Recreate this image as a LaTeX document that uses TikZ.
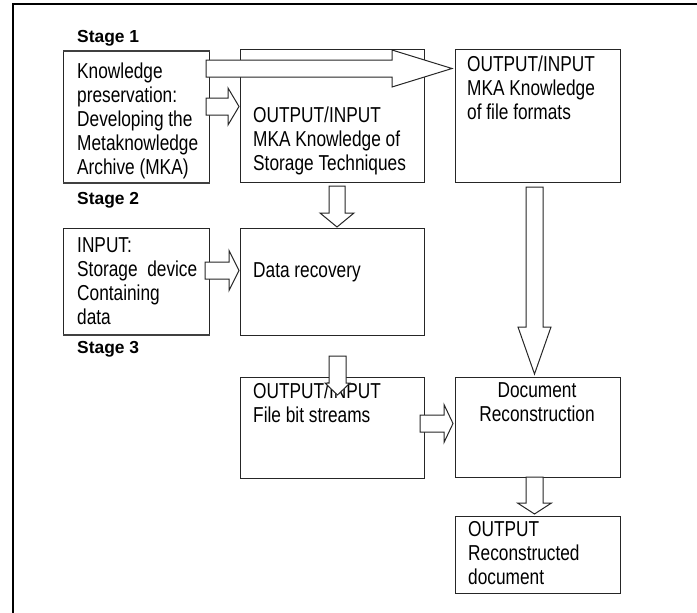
\documentclass[tikz,border=0pt]{standalone}
\usepackage{fontspec}
\setmainfont{Liberation Sans}[FakeStretch=0.8]
\newfontfamily\stagefont{Liberation Sans}
\usetikzlibrary{calc}

\tikzset{
	box/.style={draw=black!85, line width=1pt, anchor=north west, inner sep=0pt},
	txt/.style={anchor=north west, align=left, inner sep=0pt, font=\fontsize{21.6}{24}\selectfont},
	stage/.style={anchor=north west, inner sep=0pt, font=\stagefont\bfseries\fontsize{17.4}{20}\selectfont},
	fat/.style={draw=black!85, line width=1pt, fill=white},
	fatright/.style n args={3}{fat, to path={let \p1=(\tikztostart), \p2=(\tikztotarget) in
		(\x1,\y1+#1) -- (\x2-#3,\y1+#1) -- (\x2-#3,\y1+#2) -- (\x2,\y1)
		-- (\x2-#3,\y1-#2) -- (\x2-#3,\y1-#1) -- (\x1,\y1-#1) -- cycle}},
	fatdown/.style n args={3}{fat, to path={let \p1=(\tikztostart), \p2=(\tikztotarget) in
		(\x1-#1,\y1) -- (\x1-#1,\y2+#3) -- (\x1-#2,\y2+#3) -- (\x1,\y2)
		-- (\x1+#2,\y2+#3) -- (\x1+#1,\y2+#3) -- (\x1+#1,\y1) -- cycle}},
}

\begin{document}
\begin{tikzpicture}[x=1pt, y=-1pt]
	\useasboundingbox (0,0) rectangle (697,613);
	\draw[line width=2pt] (697,4) -- (13,4) -- (13,613);

	\node 	(s1)	at	(77,30.5)	[stage]{Stage 1};
	\node 	(s2)	at	(77,192.5)	[stage]{Stage 2};
	\node 	(s3)	at	(77,341.5)	[stage]{Stage 3};

	\node 	(k)		at	(63,51) 	[box, minimum width=146pt, minimum height=131pt]{};
	\node 	(mt)	at	(240,49) 	[box, minimum width=184pt, minimum height=133pt]{};
	\node 	(mf)	at	(455,49) 	[box, minimum width=165pt, minimum height=133pt]{};
	\node 	(sd)	at	(63,228) 	[box, minimum width=146pt, minimum height=106pt]{};
	\node 	(dr)	at	(240,228) 	[box, minimum width=184pt, minimum height=107pt]{};
	\node 	(fb)	at	(240,377) 	[box, minimum width=184pt, minimum height=101pt]{};
	\node 	(dc)	at	(455,377) 	[box, minimum width=165pt, minimum height=100pt]{};
	\node 	(out)	at	(455,516) 	[box, minimum width=165pt, minimum height=77pt]{};

	\draw[line width=2.2pt, black!75] (k.north west) -- (k.north east);
	\draw[line width=2.2pt, black!75] (k.south west) -- (k.south east);
	\draw[line width=2.2pt, black!75] (sd.south west) -- (sd.south east);

	\node 	(kt)	at	(77,62.5)	[txt]{Knowledge\\preservation:\\Developing the\\Metaknowledge\\Archive (MKA)};
	\node 	(mtt)	at	(253,106.5)	[txt]{OUTPUT/INPUT\\MKA Knowledge of\\Storage Techniques};
	\node 	(mft)	at	(467,55.5)	[txt]{OUTPUT/INPUT\\MKA Knowledge\\of file formats};
	\node 	(sdt)	at	(77,237.5)	[txt]{INPUT:\\Storage\ \ device\\Containing\\data};
	\node 	(drt)	at	(253,262.5)	[txt]{Data recovery};
	\node 	(fbt)	at	(253,382.5)	[txt]{OUTPUT/INPUT\\File bit streams};
	\node 	(dct)	at	(537,382.5)	[txt, anchor=north, align=center]{Document\\Reconstruction};
	\node 	(outt)	at	(468,521.5)	[txt]{OUTPUT\\Reconstructed\\document};

	\draw[fatright={8.5pt}{18.5pt}{60pt}] ([shift={(-4pt,-17.5pt)}]k.north east) to ([shift={(-3pt,-19.5pt)}]mf.north west);
	\draw[fatright={8.5pt}{18.5pt}{11pt}] ([shift={(-4pt,-55.5pt)}]k.north east) to ([shift={(-1pt,-57.5pt)}]mt.north west);
	\draw[fatdown={8pt}{17pt}{14pt}] ([shift={(97pt,-3pt)}]mt.south west) to ([shift={(97pt,1pt)}]dr.north west);
	\draw[fatright={8.5pt}{20pt}{10pt}] ([shift={(-5pt,-42.5pt)}]sd.north east) to ([shift={(-1pt,-42.5pt)}]dr.north west);
	\draw[fatdown={8.5pt}{16.5pt}{47pt}] ([shift={(79.5pt,-4pt)}]mf.south west) to ([shift={(79.5pt,3pt)}]dc.north west);
	\draw[fatdown={8.5pt}{12.5pt}{12pt}] ([shift={(97.5pt,-20pt)}]dr.south west) to ([shift={(97.5pt,-18pt)}]fb.north west);
	\draw[fatright={8.5pt}{19pt}{9pt}] ([shift={(-5pt,-46.5pt)}]fb.north east) to ([shift={(-2pt,-46.5pt)}]dc.north west);
	\draw[fatdown={8.5pt}{17pt}{11pt}] ([shift={(79.5pt,1pt)}]dc.south west) to ([shift={(79.5pt,2pt)}]out.north west);

\end{tikzpicture}
\end{document}
